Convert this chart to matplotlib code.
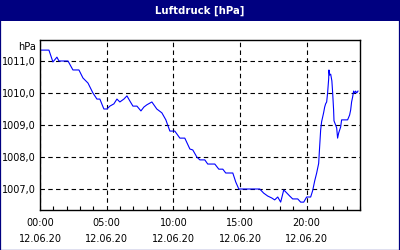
import matplotlib
matplotlib.use("Agg")
import matplotlib.pyplot as plt
from matplotlib.patches import Rectangle

# hours since 00:00 on 12.06.20 and pressure in hPa
hours = [0.0, 0.67, 0.97, 1.27, 1.42, 2.10, 2.47, 2.92, 3.22, 3.60,
         3.97, 4.27, 4.49, 4.79, 5.02, 5.24, 5.54, 5.77, 5.99, 6.29,
         6.52, 6.74, 6.97, 7.27, 7.57, 7.79, 8.01, 8.39, 8.76, 9.14,
         9.44, 9.74, 10.11, 10.49, 10.86, 11.24, 11.46, 11.76, 11.99, 12.36,
         12.58, 13.11, 13.41, 13.71, 13.93, 14.46, 14.68, 14.91, 16.48, 16.78,
         17.08, 17.38, 17.60, 17.83, 18.05, 18.28, 18.43, 18.73, 18.95, 19.33,
         19.55, 19.78, 20.00, 20.30, 20.45, 20.60, 20.75, 20.90, 20.97, 21.05,
         21.12, 21.27, 21.35, 21.42, 21.50, 21.57, 21.65, 21.67, 21.72, 21.80,
         21.89, 21.95, 22.02, 22.05, 22.17, 22.25, 22.32, 22.40, 22.55, 22.62,
         23.07, 23.22, 23.30, 23.37, 23.45, 23.52, 23.60, 23.67, 23.75, 23.85]
pressure = [1011.34, 1011.34, 1010.97, 1011.12, 1011.0, 1011.0, 1010.72, 1010.72, 1010.47, 1010.31,
            1010.0, 1009.81, 1009.81, 1009.5, 1009.5, 1009.59, 1009.66, 1009.81, 1009.72, 1009.81,
            1009.91, 1009.75, 1009.59, 1009.59, 1009.44, 1009.56, 1009.63, 1009.72, 1009.5, 1009.38,
            1009.16, 1008.81, 1008.81, 1008.59, 1008.59, 1008.25, 1008.22, 1008.0, 1007.91, 1007.91,
            1007.78, 1007.78, 1007.62, 1007.62, 1007.5, 1007.5, 1007.22, 1007.0, 1007.0, 1006.87,
            1006.78, 1006.72, 1006.66, 1006.75, 1006.59, 1006.97, 1006.91, 1006.78, 1006.69, 1006.69,
            1006.59, 1006.59, 1006.75, 1006.75, 1006.95, 1007.25, 1007.5, 1007.8, 1008.3, 1008.85,
            1009.1, 1009.38, 1009.56, 1009.66, 1009.72, 1010.0, 1010.44, 1010.72, 1010.56, 1010.59,
            1010.38, 1010.0, 1009.47, 1009.13, 1009.0, 1008.91, 1008.59, 1008.75, 1008.94, 1009.16,
            1009.16, 1009.31, 1009.47, 1009.72, 1009.88, 1010.06, 1010.0, 1010.06, 1010.0, 1010.06]

y_ticks = [1007, 1008, 1009, 1010, 1011]
y_labels = ["1007,0", "1008,0", "1009,0", "1010,0", "1011,0"]
x_ticks = [0, 5, 10, 15, 20]
x_labels = ["00:00\n12.06.20", "05:00\n12.06.20", "10:00\n12.06.20",
            "15:00\n12.06.20", "20:00\n12.06.20"]

navy = "#000080"

fig = plt.figure(figsize=(4, 2.5), dpi=100)
fig.patch.set_facecolor("white")

# title bar and frame
fig.patches.append(Rectangle((0, 0.916), 1, 0.084, transform=fig.transFigure,
                             facecolor=navy, edgecolor="none", zorder=0))
fig.patches.append(Rectangle((0.0012, 0.002), 0.9975, 0.996, transform=fig.transFigure,
                             facecolor="none", edgecolor=navy, linewidth=0.9, zorder=1))
fig.text(0.5, 0.958, "Luftdruck [hPa]", color="white", fontsize=7.3,
         fontweight="bold", ha="center", va="center")

ax = fig.add_axes([0.1, 0.16, 0.8, 0.68])
ax.plot(hours, pressure, color="#0000ff", linewidth=0.8)

ax.set_xlim(0, 24)
ax.set_ylim(1006.344, 1011.656)
ax.set_yticks(y_ticks)
ax.set_yticklabels(y_labels)
ax.set_xticks(x_ticks)
ax.set_xticklabels(x_labels, linespacing=1.75)
ax.set_xticks(range(0, 25), minor=True)

ax.grid(True, color="black", linestyle=(0, (4, 3)), linewidth=0.8)
ax.tick_params(axis="y", length=0, pad=3, labelsize=7)
ax.tick_params(axis="x", which="major", length=0, pad=6, labelsize=7)
ax.tick_params(axis="x", which="minor", direction="in", length=3, width=0.8)
for s in ax.spines.values():
    s.set_linewidth(1.0)

ax.annotate("hPa", xy=(0, 1), xycoords="axes fraction", xytext=(-3, -5),
            textcoords="offset points", ha="right", va="center", fontsize=7)

fig.savefig("out.png", dpi=100)
